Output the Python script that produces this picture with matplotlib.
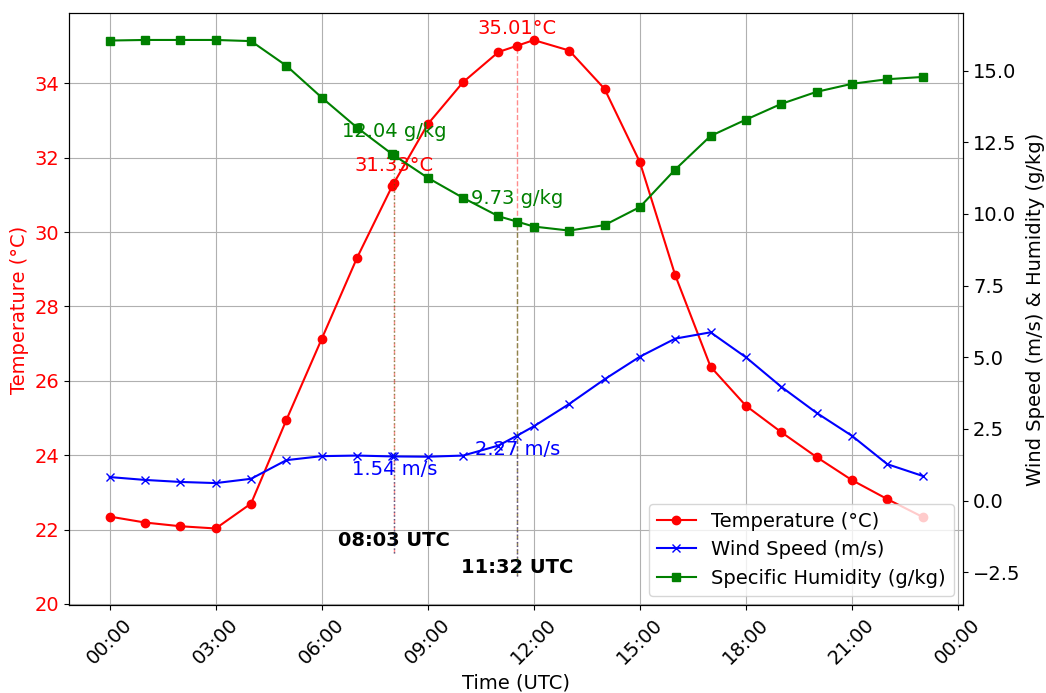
import matplotlib
matplotlib.use("Agg")
import matplotlib.pyplot as plt
import matplotlib.dates as mdates
import matplotlib.transforms as mtransforms
import pandas as pd
import numpy as np

# ---- data (hourly, UTC) ----
hours = [f"{h:02d}:00" for h in range(24)]
temperature = [22.35, 22.19, 22.09, 22.03, 22.70, 24.95, 27.13, 29.31, 31.25, 32.90,
               34.03, 34.84, 35.16, 34.88, 33.85, 31.88, 28.84, 26.38, 25.33, 24.62,
               23.95, 23.33, 22.82, 22.34]
wind_speed = [0.82, 0.72, 0.65, 0.61, 0.76, 1.41, 1.55, 1.57, 1.54, 1.53,
              1.57, 1.92, 2.59, 3.37, 4.23, 5.02, 5.65, 5.87, 5.00, 3.97,
              3.06, 2.26, 1.27, 0.86]
humidity = [16.05, 16.07, 16.07, 16.07, 16.03, 15.17, 14.06, 13.01, 12.08, 11.26,
            10.56, 9.92, 9.56, 9.42, 9.61, 10.24, 11.55, 12.72, 13.29, 13.84,
            14.26, 14.54, 14.70, 14.78]

# ---- marked events ----
event_times = ["08:03", "11:32"]
event_temp = [31.33, 35.01]
event_wind = [1.54, 2.27]
event_hum = [12.04, 9.73]

day = "2024-01-01 "
df = pd.DataFrame({"time": pd.to_datetime([day + h for h in hours]),
                   "T": temperature, "W": wind_speed, "H": humidity})
ev = pd.DataFrame({"time": pd.to_datetime([day + t for t in event_times]),
                   "T": event_temp, "W": event_wind, "H": event_hum})
full = pd.concat([df, ev]).sort_values("time").reset_index(drop=True)

fig = plt.figure(figsize=(10.46, 6.93), dpi=100)
ax1 = fig.add_axes([0.066, 0.1263, 0.9209 - 0.066, 0.9808 - 0.1263])
ax2 = ax1.twinx()

FS = 14
l1, = ax1.plot(full["time"], full["T"], color="red", marker="o", label="Temperature (°C)")
l2, = ax2.plot(full["time"], full["W"], color="blue", marker="x", label="Wind Speed (m/s)")
l3, = ax2.plot(full["time"], full["H"], color="green", marker="s", label="Specific Humidity (g/kg)")

t0 = df["time"].iloc[0]
t1 = df["time"].iloc[-1]
pad = pd.Timedelta(minutes=69)
ax1.set_xlim(t0 - pad, t1 + pad)
ax1.set_ylim(19.96, 35.88)
ax2.set_ylim(-3.66, 17.0)

ax1.xaxis.set_major_locator(mdates.HourLocator(interval=3))
ax1.xaxis.set_major_formatter(mdates.DateFormatter("%H:%M"))
for lab in ax1.get_xticklabels():
    lab.set_rotation(45)
ax1.tick_params(axis="x", labelsize=FS)
ax1.tick_params(axis="y", labelcolor="red", labelsize=FS)
ax2.tick_params(axis="y", labelsize=FS)
ax1.set_xlabel("Time (UTC)", fontsize=FS)
ax1.set_ylabel("Temperature (°C)", color="red", fontsize=FS)
ax2.set_ylabel("Wind Speed (m/s) & Humidity (g/kg)", fontsize=FS)
ax1.grid(True)

def frac(ax, v):
    lo, hi = ax.get_ylim()
    return (v - lo) / (hi - lo)

line_bottoms = [0.089, 0.049]
text_y = [0.100, 0.055]
green_styles = [":", "--"]
trans = mtransforms.blended_transform_factory(ax1.transData, ax1.transAxes)
for i in range(len(ev)):
    t = ev["time"].iloc[i]
    T, W, H = ev["T"].iloc[i], ev["W"].iloc[i], ev["H"].iloc[i]
    yb = line_bottoms[i]
    ax1.axvline(t, ymin=yb, ymax=frac(ax1, T), color="red", linestyle="--", alpha=0.45, lw=1.0)
    ax2.axvline(t, ymin=yb, ymax=frac(ax2, H), color="green", linestyle=green_styles[i], alpha=0.45, lw=1.0)
    ax2.axvline(t, ymin=yb, ymax=frac(ax2, W), color="blue", linestyle=":", alpha=0.35, lw=1.0)
    ax1.annotate(f"{T:.2f}°C", (t, T), textcoords="offset points", xytext=(0, 8.3),
                 ha="center", va="baseline", color="red", fontsize=FS)
    ax2.annotate(f"{H:.2f} g/kg", (t, H), textcoords="offset points", xytext=(0, 13),
                 ha="center", va="baseline", color="green", fontsize=FS)
    ax2.annotate(f"{W:.2f} m/s", (t, W), textcoords="offset points", xytext=(0, -13.7),
                 ha="center", va="baseline", color="blue", fontsize=FS)
    ax1.text(t, text_y[i], t.strftime("%H:%M") + " UTC", transform=trans,
             ha="center", va="baseline", fontsize=FS, fontweight="bold")

ax2.legend(handles=[l1, l2, l3], loc="lower right", fontsize=FS)

fig.savefig("out.png", dpi=100)
